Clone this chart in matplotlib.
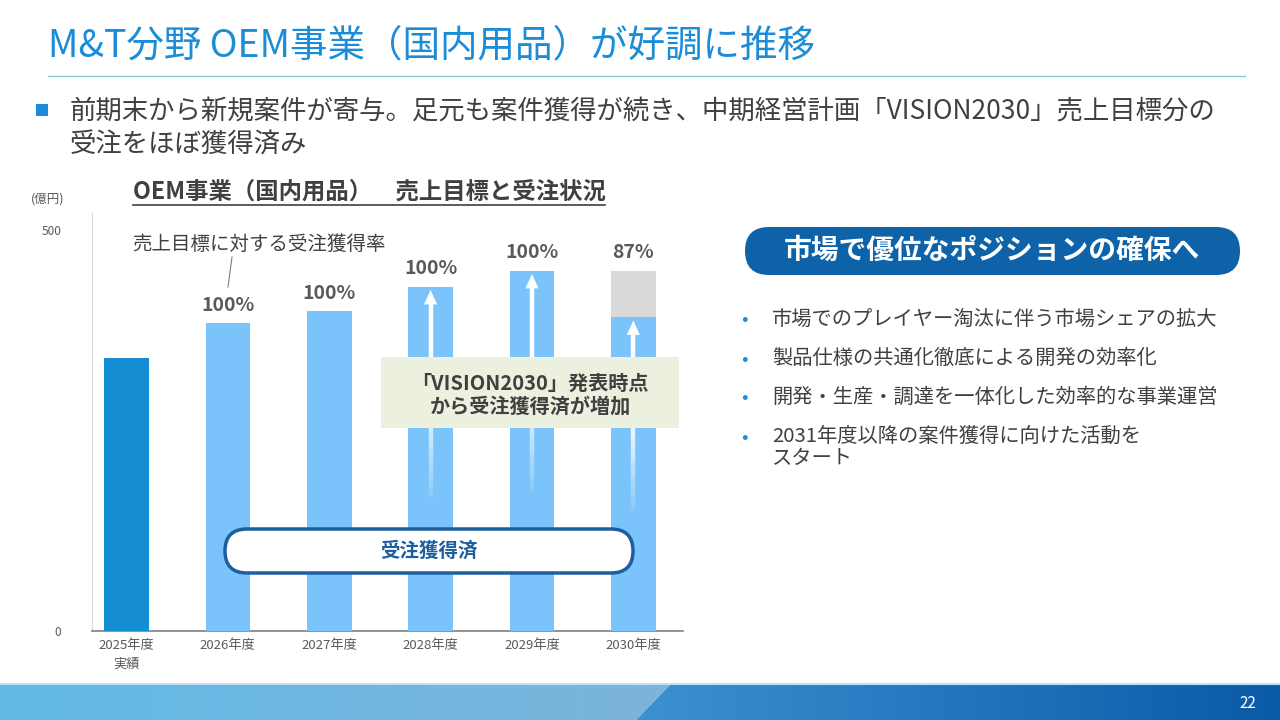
import numpy as np
import matplotlib.pyplot as plt
from matplotlib.patches import Rectangle, FancyBboxPatch, Polygon
from matplotlib.colors import LinearSegmentedColormap

plt.rcParams['font.family'] = ['Noto Sans CJK JP', 'DejaVu Sans']

W, H = 1280, 720  # slide size in pixels

# data (億円)
years = ['2025年度\n実績', '2026年度', '2027年度', '2028年度', '2029年度', '2030年度']
sales_target = [340, 384, 399, 429, 449, 449]
orders_won = [340, 384, 399, 429, 449, 391]
order_rate = [None, '100%', '100%', '100%', '100%', '87%']
arrow_bars = [3, 4, 5]  # bars with the "increase" arrow

title = 'M&T分野 OEM事業（国内用品）が好調に推移'
lead = ['前期末から新規案件が寄与。足元も案件獲得が続き、中期経営計画「VISION2030」売上目標分の',
        '受注をほぼ獲得済み']
chart_title = 'OEM事業（国内用品）　売上目標と受注状況'
points_head = '市場で優位なポジションの確保へ'
points = ['市場でのプレイヤー淘汰に伴う市場シェアの拡大',
          '製品仕様の共通化徹底による開発の効率化',
          '開発・生産・調達を一体化した効率的な事業運営',
          '2031年度以降の案件獲得に向けた活動を\nスタート']

BLUE = '#1A8CD8'
TXT = '#404040'
GREY = '#595959'

fig = plt.figure(figsize=(12.8, 7.2), dpi=100)

# ---- bar chart ----
ax = fig.add_axes([92 / W, (H - 631) / H, (683 - 92) / W, (631 - 213) / H])
x = np.arange(len(years))
colors = ['#148DD3'] + ['#7AC3FB'] * (len(years) - 1)
ax.bar(x, sales_target, width=0.44, color='#D9D9D9', zorder=2)
ax.bar(x, orders_won, width=0.44, color=colors, zorder=3)

for i, r in enumerate(order_rate):
    if r:
        ax.annotate(r, (x[i], sales_target[i]), xytext=(0, 6), textcoords='offset points',
                    ha='center', va='bottom', fontsize=14, weight='bold', color=GREY)

# white arrows fading towards the bottom
for i in arrow_bars:
    top = orders_won[i] - 4
    bottom = orders_won[i] * 0.39
    head = 18
    ys = np.linspace(bottom, top - head, 41)
    for k in range(len(ys) - 1):
        a = min(1.0, 0.15 + k / 25)
        ax.plot([x[i], x[i]], [ys[k], ys[k + 1]], color='white', lw=3.2, alpha=a,
                solid_capstyle='butt', zorder=4)
    ax.fill([x[i] - 0.065, x[i] + 0.065, x[i]], [top - head, top - head, top],
            color='white', zorder=4, lw=0)

ax.set_xlim(-0.34, 5.49)
ax.set_ylim(0, 521)
ax.set_xticks(x)
ax.set_xticklabels(years, fontsize=9.5, color=GREY, linespacing=1.5)
ax.set_yticks([0, 500])
ax.set_yticklabels(['0', '500'], fontsize=8.5, color=GREY)
ax.tick_params(axis='both', length=0)
ax.tick_params(axis='y', pad=22)
ax.tick_params(axis='x', pad=6)
for s in ['top', 'right']:
    ax.spines[s].set_visible(False)
ax.spines['left'].set_color('#D9D9D9')
ax.spines['bottom'].set_color('#808080')
ax.spines['bottom'].set_linewidth(1.2)

# ---- slide decoration in pixel coordinates ----
deco = fig.add_axes([0, 0, 1, 1], zorder=5)
deco.patch.set_alpha(0)
deco.axis('off')

deco.text(48, 46, title, fontsize=27, color=BLUE, va='center')
deco.plot([48, 1245], [76, 76], color='#8CC3DD', lw=1)
deco.add_patch(Rectangle((36, 104), 12, 12, color=BLUE, lw=0))
deco.text(70, 112, lead[0], fontsize=19, color=TXT, va='center')
deco.text(70, 144, lead[1], fontsize=19, color=TXT, va='center')

deco.text(369, 192, chart_title, fontsize=16.8, weight='bold', color=TXT, ha='center', va='center')
deco.plot([133, 605], [205, 205], color=TXT, lw=1.2)
deco.text(48, 199, '(億円)', fontsize=9, color=GREY, ha='center', va='center')

deco.text(259, 244, '売上目標に対する受注獲得率', fontsize=14, color=TXT, ha='center', va='center')
deco.plot([232, 228], [257, 287], color='#7F7F7F', lw=0.8)

deco.add_patch(Rectangle((381, 357), 298, 71, color='#EBF1DE', lw=0))
deco.text(530, 383, '「VISION2030」発表時点', fontsize=14.5, weight='bold', color=TXT, ha='center', va='center')
deco.text(530, 406, 'から受注獲得済が増加', fontsize=14.5, weight='bold', color=TXT, ha='center', va='center')

deco.add_patch(FancyBboxPatch((225, 529), 408, 44, boxstyle='round,pad=0,rounding_size=22',
                              fc='white', ec='#1C5E9E', lw=2.5))
deco.text(429, 551, '受注獲得済', fontsize=14, weight='bold', color='#1C5E9E', ha='center', va='center')

# right-hand side
deco.add_patch(FancyBboxPatch((745, 227), 495, 48, boxstyle='round,pad=0,rounding_size=24',
                              fc='#0D62A8', ec='none'))
deco.text(992, 251, points_head, fontsize=20, weight='bold', color='white', ha='center', va='center')
for k, p in enumerate(points):
    y = 320 + k * 39
    deco.text(744, y, '•', fontsize=14, color='#1E8FD5', ha='center', va='center')
    deco.text(772, y - 11, p, fontsize=14.6, color=TXT, va='top', linespacing=1.05)

# footer band
left_cm = LinearSegmentedColormap.from_list('l', ['#62BBE7', '#7DB4DB'])
right_cm = LinearSegmentedColormap.from_list('r', ['#3D92D2', '#0A5AA7'])
grad = np.linspace(0, 1, 256).reshape(1, -1)
im1 = deco.imshow(grad, extent=[0, 680, 720, 683], cmap=left_cm, aspect='auto', zorder=1)
p1 = Polygon([(0, 683), (672, 683), (636, 720), (0, 720)], closed=True, transform=deco.transData)
im1.set_clip_path(p1)
im2 = deco.imshow(grad, extent=[630, 1280, 720, 683], cmap=right_cm, aspect='auto', zorder=1)
p2 = Polygon([(672, 683), (1280, 683), (1280, 720), (636, 720)], closed=True, transform=deco.transData)
im2.set_clip_path(p2)
deco.plot([0, 1280], [683.5, 683.5], color='#BFE0F2', lw=1.5, zorder=2)
deco.text(1248, 703, '22', color='white', fontsize=11, ha='center', va='center', zorder=3)

deco.set_xlim(0, W)
deco.set_ylim(H, 0)

fig.savefig('out.png', dpi=100)
